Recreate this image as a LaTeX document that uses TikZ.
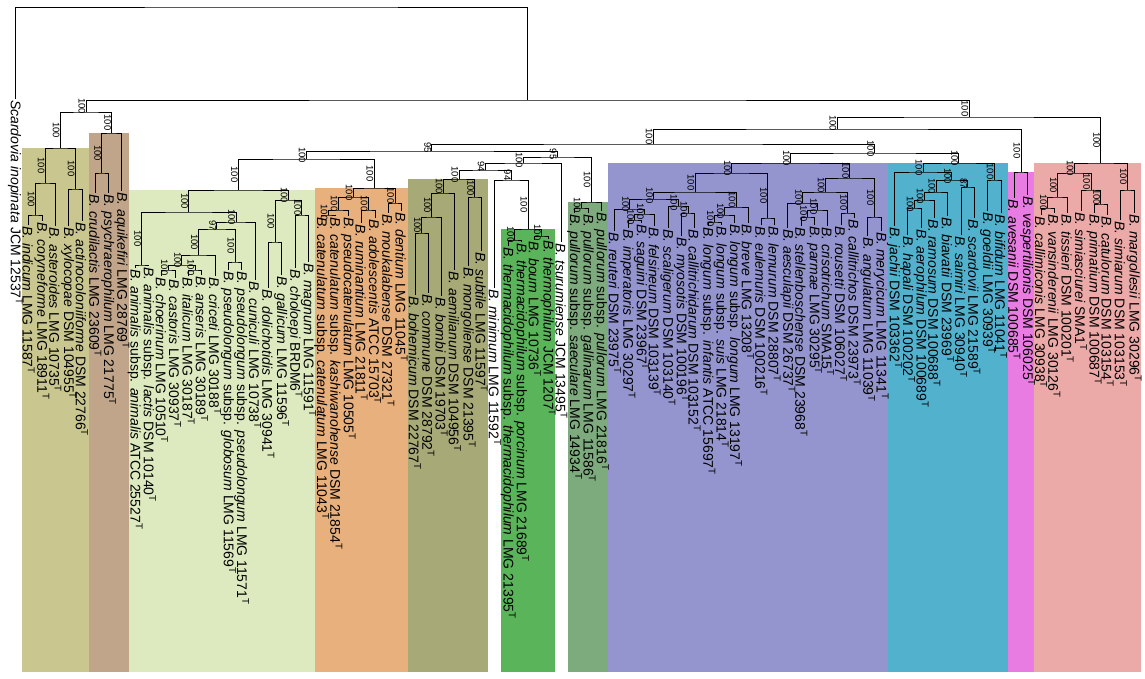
\documentclass[tikz,border=0pt]{standalone}
\usepackage{fontspec}
\setmainfont{Liberation Sans}
\usetikzlibrary{calc}

\definecolor{cA}{RGB}{201,199,143}
\definecolor{cB}{RGB}{192,165,138}
\definecolor{cC}{RGB}{221,233,190}
\definecolor{cD}{RGB}{232,176,124}
\definecolor{cE}{RGB}{167,170,118}
\definecolor{cF}{RGB}{90,181,90}
\definecolor{cG}{RGB}{125,171,125}
\definecolor{cH}{RGB}{148,148,206}
\definecolor{cI}{RGB}{82,178,206}
\definecolor{cJ}{RGB}{232,124,226}
\definecolor{cK}{RGB}{235,169,167}

\newcommand{\ty}{\textsuperscript{T}}
% leaf: name, index, tip y, text
\newcommand{\leaf}[4]{%
  \coordinate (#1) at ({15.3+(#2-1)*13.32},#3);
  \node[lbl] (#1-t) at (#1) {#4};}
% clade: name, left, right, bar y, support left, support right
\newcommand{\clade}[6]{%
  \coordinate (#1-m) at ($(#2)!0.5!(#3)$);
  \coordinate (#1) at (#1-m |- 0,#4);
  \draw[br] (#2) |- (#1) -| (#3);
  \if\relax\detokenize{#5}\relax\else
    \node[bs] (#2-bs) at ($(#2)!0.5!(#2 |- #1)$) {#5};\fi
  \if\relax\detokenize{#6}\relax\else
    \node[bs] (#3-bs) at ($(#3)!0.5!(#3 |- #1)$) {#6};\fi}
% coloured box: first leaf, last leaf, top, colour
\newcommand{\grp}[4]{%
  \fill[#4] ({15.3+(#1-1.5)*13.32},#3) rectangle ({15.3+(#2-0.5)*13.32},672);}

\tikzset{
  lbl/.style={rotate=-90, anchor=west, inner sep=1pt, font=\fontsize{14}{15}\selectfont},
  bs/.style={rotate=-90, anchor=north, inner sep=0.6pt, font=\fontsize{9.5}{10}\selectfont},
  br/.style={line width=0.8pt, black}
}

\begin{document}
\begin{tikzpicture}[x=1pt, y=-1pt]
\useasboundingbox (0,0) rectangle (1145,678);
	%boxes
		\grp{2}{6}{148}{cA}
		\grp{7}{9}{133}{cB}
		\grp{10}{23}{190}{cC}
		\grp{24}{30}{188}{cD}
		\grp{31}{36}{179}{cE}
		\grp{38}{41}{229}{cF}
		\grp{43}{45}{202}{cG}
		\grp{46}{66}{163}{cH}
		\grp{67}{75}{163}{cI}
		\grp{76}{77}{172}{cJ}
		\grp{78}{85}{163}{cK}
	%leaves
		\leaf{scard}{1}{99}{\textit{Scardovia inopinata} JCM 12537\ty}
		\leaf{indi}{2}{225}{\textit{B. indicum} LMG 11587\ty}
		\leaf{cory}{3}{221}{\textit{B. coryneforme} LMG 18911\ty}
		\leaf{aste}{4}{226}{\textit{B. asteroides} LMG 10735\ty}
		\leaf{xylo}{5}{226}{\textit{B. xylocopae} DSM 104955\ty}
		\leaf{acti}{6}{221}{\textit{B. actinocoloniiforme} DSM 22766\ty}
		\leaf{crud}{7}{193}{\textit{B. crudilactis} LMG 23609\ty}
		\leaf{psyc}{8}{193}{\textit{B. psychraerophilum} LMG 21775\ty}
		\leaf{aqui}{9}{191}{\textit{B. aquikefiri} LMG 28769\ty}
		\leaf{anan}{10}{268}{\textit{B. animalis} subsp. \textit{animalis} ATCC 25527\ty}
		\leaf{anla}{11}{266}{\textit{B. animalis} subsp. \textit{lactis} DSM 10140\ty}
		\leaf{choe}{12}{276}{\textit{B. choerinum} LMG 10510\ty}
		\leaf{cast}{13}{278}{\textit{B. castoris} LMG 30937\ty}
		\leaf{ital}{14}{276}{\textit{B. italicum} LMG 30187\ty}
		\leaf{anse}{15}{275}{\textit{B. anseris} LMG 30189\ty}
		\leaf{cric}{16}{276}{\textit{B. criceti} LMG 30188\ty}
		\leaf{psgl}{17}{270}{\textit{B. pseudolongum} subsp. \textit{globosum} LMG 11569\ty}
		\leaf{psps}{18}{270}{\textit{B. pseudolongum} subsp. \textit{pseudolongum} LMG 11571\ty}
		\leaf{cuni}{19}{280}{\textit{B. cuniculi} LMG 10738\ty}
		\leaf{doli}{20}{288}{\textit{B. dolichotidis} LMG 30941\ty}
		\leaf{gall}{21}{275}{\textit{B. gallicum} LMG 11596\ty}
		\leaf{chol}{22}{268}{\textit{B. choloepi} BRDM6\ty}
		\leaf{magn}{23}{262}{\textit{B. magnum} LMG 11591\ty}
		\leaf{caca}{24}{216}{\textit{B. catenulatum} subsp. \textit{catenulatum} LMG 11043\ty}
		\leaf{caka}{25}{216}{\textit{B. catenulatum} subsp. \textit{kashiwanohense} DSM 21854\ty}
		\leaf{psca}{26}{216}{\textit{B. pseudocatenulatum} LMG 10505\ty}
		\leaf{rumi}{27}{223}{\textit{B. ruminantium} LMG 21811\ty}
		\leaf{adol}{28}{218}{\textit{B. adolescentis} ATCC 15703\ty}
		\leaf{mouk}{29}{213}{\textit{B. moukalabense} DSM 27321\ty}
		\leaf{dent}{30}{211}{\textit{B. dentium} LMG 11045\ty}
		\leaf{bohe}{31}{295}{\textit{B. bohemicum} DSM 22767\ty}
		\leaf{comm}{32}{293}{\textit{B. commune} DSM 28792\ty}
		\leaf{bomb}{33}{296}{\textit{B. bombi} DSM 19703\ty}
		\leaf{aemi}{34}{270}{\textit{B. aemilianum} DSM 104956\ty}
		\leaf{mong}{35}{266}{\textit{B. mongoliense} DSM 21395\ty}
		\leaf{subt}{36}{251}{\textit{B. subtile} LMG 11597\ty}
		\leaf{mini}{37}{288}{\textit{B. minimum} LMG 11592\ty}
		\leaf{thth}{38}{246}{\textit{B. thermacidophilum} subsp. \textit{thermacidophilum} LMG 21395\ty}
		\leaf{thpo}{39}{242}{\textit{B. thermacidophilum} subsp. \textit{porcinum} LMG 21689\ty}
		\leaf{boum}{40}{240}{\textit{B. boum} LMG 10736\ty}
		\leaf{ther}{41}{239}{\textit{B. thermophilum} JCM 1207\ty}
		\leaf{tsur}{42}{242}{\textit{B. tsurumiense} JCM 13495\ty}
		\leaf{pusa}{43}{213}{\textit{B. pullorum} subsp. \textit{saeculare} LMG 14934\ty}
		\leaf{puga}{44}{213}{\textit{B. pullorum} subsp. \textit{gallinarum} LMG 11586\ty}
		\leaf{pupu}{45}{211}{\textit{B. pullorum} subsp. \textit{pullorum} LMG 21816\ty}
		\leaf{reut}{46}{231}{\textit{B. reuteri} DSM 23975\ty}
		\leaf{impe}{47}{228}{\textit{B. imperatoris} LMG 30297\ty}
		\leaf{sagu}{48}{223}{\textit{B. saguini} DSM 23967\ty}
		\leaf{fels}{49}{226}{\textit{B. felsineum} DSM 103139\ty}
		\leaf{scal}{50}{228}{\textit{B. scaligerum} DSM 103140\ty}
		\leaf{myos}{51}{236}{\textit{B. myosotis} DSM 100196\ty}
		\leaf{calt}{52}{228}{\textit{B. callitrichidarum} DSM 103152\ty}
		\leaf{loin}{53}{226}{\textit{B. longum} subsp. \textit{infantis} ATCC 15697\ty}
		\leaf{losu}{54}{225}{\textit{B. longum} subsp. \textit{suis} LMG 21814\ty}
		\leaf{lolo}{55}{223}{\textit{B. longum} subsp. \textit{longum} LMG 13197\ty}
		\leaf{brev}{56}{223}{\textit{B. breve} LMG 13208\ty}
		\leaf{eule}{57}{225}{\textit{B. eulemuris} DSM 100216\ty}
		\leaf{lemu}{58}{225}{\textit{B. lemurum} DSM 28807\ty}
		\leaf{aesc}{59}{228}{\textit{B. aesculapii} DSM 26737\ty}
		\leaf{stel}{60}{226}{\textit{B. stellenboschense} DSM 23968\ty}
		\leaf{parm}{61}{225}{\textit{B. parmae} LMG 30295\ty}
		\leaf{cris}{62}{226}{\textit{B. crisotrichum} SMA15\ty}
		\leaf{rous}{63}{225}{\textit{B. rousetti} DSM 106027\ty}
		\leaf{cals}{64}{218}{\textit{B. callitrichos} DSM 23973\ty}
		\leaf{angu}{65}{236}{\textit{B. angulatum} LMG 11039\ty}
		\leaf{mery}{66}{231}{\textit{B. merycicum} LMG 11341\ty}
		\leaf{jach}{67}{226}{\textit{B. jachii} DSM 103362\ty}
		\leaf{hapa}{68}{235}{\textit{B. hapali} DSM 100202\ty}
		\leaf{aero}{69}{228}{\textit{B. aerophilum} DSM 100689\ty}
		\leaf{ramo}{70}{218}{\textit{B. ramosum} DSM 100688\ty}
		\leaf{biav}{71}{216}{\textit{B. biavatii} DSM 23969\ty}
		\leaf{saim}{72}{235}{\textit{B. saimiri} LMG 30940\ty}
		\leaf{scar}{73}{218}{\textit{B. scardovii} LMG 21589\ty}
		\leaf{goel}{74}{211}{\textit{B. goeldii} LMG 30939\ty}
		\leaf{bifi}{75}{213}{\textit{B. bifidum} LMG 11041\ty}
		\leaf{aves}{76}{198}{\textit{B. avesanii} DSM 100685\ty}
		\leaf{vesp}{77}{195}{\textit{B. vespertilionis} DSM 106025\ty}
		\leaf{calm}{78}{215}{\textit{B. callimiconis} LMG 30938\ty}
		\leaf{vans}{79}{213}{\textit{B. vansinderenii} LMG 30126\ty}
		\leaf{tiss}{80}{213}{\textit{B. tissieri} DSM 100201\ty}
		\leaf{simc}{81}{211}{\textit{B. simiasciurei} SMA1\ty}
		\leaf{prim}{82}{213}{\textit{B. primatium} DSM 100687\ty}
		\leaf{catu}{83}{215}{\textit{B. catulorum} DSM 103154\ty}
		\leaf{simr}{84}{220}{\textit{B. simiarum} DSM 103153\ty}
		\leaf{marg}{85}{213}{\textit{B. margollesii} LMG 30296\ty}
	%asteroides + brown group
		\clade{indcor}{indi}{cory}{215}{}{}
		\clade{ica}{indcor}{aste}{183}{100}{}
		\clade{xa}{xylo}{acti}{189}{}{}
		\clade{gA}{ica}{xa}{148}{100}{100}
		\clade{cp}{crud}{psyc}{173}{}{}
		\clade{gB}{cp}{aqui}{133}{100}{}
		\clade{B}{gA}{gB}{112}{100}{100}
	%pseudolongum group
		\clade{ani}{anan}{anla}{265}{}{}
		\clade{cc}{choe}{cast}{270}{}{}
		\clade{ia}{ital}{anse}{270}{}{}
		\clade{s5}{cc}{ia}{265}{100}{100}
		\clade{s4}{s5}{cric}{255}{100}{}
		\clade{psp}{psgl}{psps}{262}{}{}
		\clade{s3}{s4}{psp}{229}{100}{100}
		\clade{s2}{s3}{cuni}{222}{97}{}
		\clade{s1}{ani}{s2}{212}{100}{100}
		\clade{dg}{doli}{gall}{242}{}{}
		\clade{cm}{chol}{magn}{215}{}{}
		\clade{lgr}{dg}{cm}{200}{100}{100}
		\clade{gC}{s1}{lgr}{190}{100}{100}
	%adolescentis group
		\clade{cat}{caca}{caka}{215}{}{}
		\clade{cpc}{cat}{psca}{210}{100}{}
		\clade{ra}{rumi}{adol}{210}{}{}
		\clade{orl}{cpc}{ra}{197}{100}{100}
		\clade{md}{mouk}{dent}{203}{}{}
		\clade{gD}{orl}{md}{188}{100}{100}
		\clade{I}{gC}{gD}{159}{100}{100}
	%bombi, boum, pullorum groups
		\clade{bc}{bohe}{comm}{233}{}{}
		\clade{bcb}{bc}{bomb}{217}{100}{}
		\clade{bcba}{bcb}{aemi}{193}{100}{}
		\clade{ms}{mong}{subt}{197}{}{}
		\clade{gE}{bcba}{ms}{179}{100}{100}
		\clade{tt}{thth}{thpo}{240}{}{}
		\clade{bt}{boum}{ther}{236}{}{}
		\clade{gF}{tt}{bt}{229}{100}{100}
		\clade{K}{mini}{gF}{180}{}{100}
		\clade{R}{gE}{K}{170}{100}{94}
		\clade{M}{R}{tsur}{163}{94}{}
		\clade{sg}{pusa}{puga}{208}{}{}
		\clade{gG}{sg}{pupu}{202}{100}{}
		\clade{G}{M}{gG}{157}{100}{100}
		\clade{F}{I}{G}{151}{100}{95}
	%longum group
		\clade{is}{loin}{losu}{222}{}{}
		\clade{isl}{is}{lolo}{215}{100}{}
		\clade{lon}{isl}{brev}{207}{100}{}
		\clade{ims}{impe}{sagu}{220}{}{}
		\clade{imsf}{ims}{fels}{214}{100}{}
		\clade{r1}{reut}{imsf}{209}{}{100}
		\clade{mc}{myos}{calt}{213}{}{}
		\clade{r2}{scal}{mc}{206}{}{100}
		\clade{lva}{r1}{r2}{199}{100}{100}
		\clade{lvl1}{lva}{lon}{192}{100}{100}
		\clade{el}{eule}{lemu}{218}{}{}
		\clade{lvl}{lvl1}{el}{173}{100}{100}
		\clade{sp}{stel}{parm}{217}{}{}
		\clade{spc}{sp}{cris}{210}{100}{}
		\clade{asc}{aesc}{spc}{203}{}{100}
		\clade{rc}{rous}{cals}{213}{}{}
		\clade{lvrl}{asc}{rc}{192}{100}{100}
		\clade{am}{angu}{mery}{217}{}{}
		\clade{lvr}{lvrl}{am}{178}{100}{100}
		\clade{gH}{lvl}{lvr}{163}{100}{100}
	%bifidum group
		\clade{ha}{hapa}{aero}{208}{}{}
		\clade{har}{ha}{ramo}{200}{100}{}
		\clade{cyf}{har}{biav}{192}{100}{}
		\clade{ss}{saim}{scar}{187}{}{}
		\clade{cyb}{cyf}{ss}{180}{100}{87}
		\clade{cya}{jach}{cyb}{172}{}{100}
		\clade{gb}{goel}{bifi}{180}{}{}
		\clade{gI}{cya}{gb}{163}{100}{100}
		\clade{H}{gH}{gI}{153}{100}{100}
		\clade{E}{F}{H}{144}{95}{100}
		\clade{gJ}{aves}{vesp}{172}{}{}
		\clade{D}{E}{gJ}{129}{100}{100}
	%pink group
		\clade{cv}{calm}{vans}{208}{}{}
		\clade{cvt}{cv}{tiss}{197}{100}{}
		\clade{pc}{prim}{catu}{204}{}{}
		\clade{sc}{simc}{pc}{190}{}{100}
		\clade{pkl}{cvt}{sc}{173}{100}{100}
		\clade{sm}{simr}{marg}{190}{}{}
		\clade{gK}{pkl}{sm}{163}{100}{100}
	%top
		\clade{C}{D}{gK}{117}{100}{100}
		\clade{A}{B}{C}{100}{100}{100}
		\clade{root}{scard}{A}{7}{}{}
\end{tikzpicture}
\end{document}
